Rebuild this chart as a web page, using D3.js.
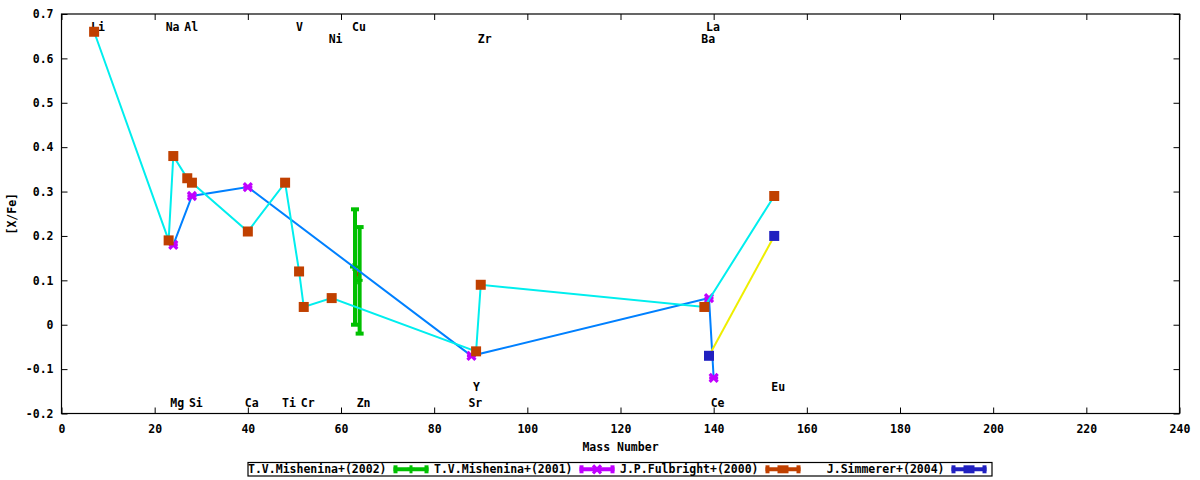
<!DOCTYPE html>
<html>
<head>
<meta charset="utf-8">
<script src="https://cdn.jsdelivr.net/npm/d3@7"></script>
<style>
  body { margin: 0; background: #fff; }
  text { font-family: "DejaVu Sans Mono", monospace; font-weight: bold; font-size: 11.5px; fill: #000; }
</style>
</head>
<body>
<div id="chart"></div>
<script>
// axis ticks
var xTicks = [0, 20, 40, 60, 80, 100, 120, 140, 160, 180, 200, 220, 240];
var yTicks = [-0.2, -0.1, 0, 0.1, 0.2, 0.3, 0.4, 0.5, 0.6, 0.7];
var yTickLabels = ["-0.2", "-0.1", "0", "0.1", "0.2", "0.3", "0.4", "0.5", "0.6", "0.7"];

// T.V.Mishenina+(2002) - with errorbars
var mish02Mass = [63, 64];
var mish02Val = [0.13, 0.10];
var mish02Err = [0.13, 0.12];

// T.V.Mishenina+(2001)
var mish01Mass = [24, 28, 40, 88, 139, 140];
var mish01Val = [0.18, 0.29, 0.31, -0.07, 0.06, -0.12];

// J.P.Fulbright+(2000)
var fulbMass = [7, 23, 24, 27, 28, 40, 48, 51, 52, 58, 89, 90, 138, 153];
var fulbVal = [0.66, 0.19, 0.38, 0.33, 0.32, 0.21, 0.32, 0.12, 0.04, 0.06, -0.06, 0.09, 0.04, 0.29];

// J.Simmerer+(2004)
var simMass = [139, 153];
var simVal = [-0.07, 0.20];

// element labels (row 0/1 top, 2/3 bottom)
var elemNames = ["Li", "Na", "Al", "V", "Cu", "La", "Ni", "Zr", "Ba", "Y", "Eu", "Mg", "Si", "Ca", "Ti", "Cr", "Zn", "Sr", "Ce"];
var elemMass  = [7, 23, 27, 51, 63, 139, 58, 90, 138, 89, 153, 24, 28, 40, 48, 52, 64, 88, 140];
var elemRow   = [0, 0, 0, 0, 0, 0, 1, 1, 1, 2, 2, 3, 3, 3, 3, 3, 3, 3, 3];
var rowValue  = [0.672, 0.645, -0.141, -0.177];

var legendNames = ["T.V.Mishenina+(2002)", "T.V.Mishenina+(2001)", "J.P.Fulbright+(2000)", "J.Simmerer+(2004)"];

var red = "#ff0000", green = "#00c000", blue = "#0080ff", magenta = "#c000ff",
    cyan = "#00eeee", brown = "#c04000", yellow = "#eeee00", navy = "#2020c0";

var W = 1200, H = 480;
var margin = { top: 14, right: 20.5, bottom: 66.5, left: 61.5 };

var svg = d3.select("#chart").append("svg")
    .attr("width", W)
    .attr("height", H);

var x = d3.scaleLinear().domain([0, 240]).range([margin.left, W - margin.right]);
var y = d3.scaleLinear().domain([-0.2, 0.7]).range([H - margin.bottom, margin.top]);

// axes (ticks pointing inward, mirrored)
var gx = svg.append("g")
    .attr("transform", "translate(0," + y(-0.2) + ")")
    .call(d3.axisBottom(x).tickValues(xTicks).tickSize(-6).tickPadding(11));
svg.append("g")
    .attr("transform", "translate(0," + y(0.7) + ")")
    .call(d3.axisTop(x).tickValues(xTicks).tickSize(-6).tickFormat(""));
svg.append("g")
    .attr("transform", "translate(" + x(0) + ",0)")
    .call(d3.axisLeft(y).tickValues(yTicks).tickSize(-6).tickPadding(8)
        .tickFormat(function (d, i) { return yTickLabels[i]; }));
svg.append("g")
    .attr("transform", "translate(" + x(240) + ",0)")
    .call(d3.axisRight(y).tickValues(yTicks).tickSize(-6).tickFormat(""));

svg.selectAll(".domain").remove();
svg.selectAll(".tick line").attr("stroke", "#000");
svg.selectAll(".tick text")
    .attr("font-family", null)
    .attr("font-size", null)
    .attr("fill", "#000");

// frame
svg.append("rect")
    .attr("x", x(0))
    .attr("y", y(0.7))
    .attr("width", x(240) - x(0))
    .attr("height", y(-0.2) - y(0.7))
    .attr("fill", "none")
    .attr("stroke", "#000")
    .attr("stroke-width", 1.2);

// axis labels
svg.append("text")
    .attr("x", (x(0) + x(240)) / 2)
    .attr("y", 451)
    .attr("text-anchor", "middle")
    .text("Mass Number");

svg.append("text")
    .attr("transform", "translate(16," + ((y(0.7) + y(-0.2)) / 2) + ") rotate(-90)")
    .attr("text-anchor", "middle")
    .text("[X/Fe]");

// element labels
svg.selectAll(".elem")
    .data(elemNames)
    .join("text")
    .attr("class", "elem")
    .attr("x", function (d, i) { return x(elemMass[i]) - 3; })
    .attr("y", function (d, i) { return y(rowValue[elemRow[i]]); })
    .attr("dy", "0.36em")
    .text(function (d) { return d; });

var line = d3.line()
    .x(function (d) { return x(d[0]); })
    .y(function (d) { return y(d[1]); });

function pairs(ms, vs) {
    return ms.map(function (m, i) { return [m, vs[i]]; });
}

function drawLine(ms, vs, color) {
    svg.append("path")
        .datum(pairs(ms, vs))
        .attr("fill", "none")
        .attr("stroke", color)
        .attr("stroke-width", 2)
        .attr("d", line);
}

// point shapes
function drawPlus(g, cx, cy, color) {
    g.append("line").attr("x1", cx - 4).attr("x2", cx + 4).attr("y1", cy).attr("y2", cy)
        .attr("stroke", color).attr("stroke-width", 3);
    g.append("line").attr("x1", cx).attr("x2", cx).attr("y1", cy - 4).attr("y2", cy + 4)
        .attr("stroke", color).attr("stroke-width", 3);
}
function drawCross(g, cx, cy, color) {
    g.append("path")
        .attr("d", "M" + (cx - 4) + "," + (cy - 4) + "L" + (cx + 4) + "," + (cy + 4) +
            "M" + (cx - 4) + "," + (cy + 4) + "L" + (cx + 4) + "," + (cy - 4))
        .attr("stroke", color).attr("stroke-width", 3.2).attr("fill", "none");
    g.append("line").attr("x1", cx - 4.5).attr("x2", cx + 4.5).attr("y1", cy).attr("y2", cy)
        .attr("stroke", color).attr("stroke-width", 3);
}
function drawSquare(g, cx, cy, color) {
    g.append("rect").attr("x", cx - 5).attr("y", cy - 5).attr("width", 10).attr("height", 10)
        .attr("fill", color);
}

// Mishenina 2002: red line + green error bars
drawLine(mish02Mass, mish02Val, red);
var gErr = svg.append("g");
mish02Mass.forEach(function (m, i) {
    var cx = x(m);
    var top = y(mish02Val[i] + mish02Err[i]);
    var bot = y(mish02Val[i] - mish02Err[i]);
    gErr.append("line").attr("x1", cx).attr("x2", cx).attr("y1", top).attr("y2", bot)
        .attr("stroke", green).attr("stroke-width", 4);
    [top, bot].forEach(function (yy) {
        gErr.append("line").attr("x1", cx - 4).attr("x2", cx + 4).attr("y1", yy).attr("y2", yy)
            .attr("stroke", green).attr("stroke-width", 4);
    });
    drawPlus(gErr, cx - 1, y(mish02Val[i]), green);
});

// Mishenina 2001: blue line + magenta points
drawLine(mish01Mass, mish01Val, blue);
var gMag = svg.append("g");
mish01Mass.forEach(function (m, i) { drawCross(gMag, x(m), y(mish01Val[i]), magenta); });

// Fulbright 2000: cyan line + brown squares
drawLine(fulbMass, fulbVal, cyan);
var gBr = svg.append("g");
fulbMass.forEach(function (m, i) { drawSquare(gBr, x(m), y(fulbVal[i]), brown); });

// Simmerer 2004: yellow line + navy squares
drawLine(simMass, simVal, yellow);
var gNv = svg.append("g");
simMass.forEach(function (m, i) { drawSquare(gNv, x(m), y(simVal[i]), navy); });

// legend
var legend = svg.append("g");
legend.append("rect")
    .attr("x", 248)
    .attr("y", 462.5)
    .attr("width", 744)
    .attr("height", 13.5)
    .attr("fill", "#fff")
    .attr("stroke", "#000")
    .attr("stroke-width", 1.2);

var legColors = [green, magenta, brown, navy];
var legMarks = [drawPlus, drawCross, function (g, cx, cy, c) {
    g.append("rect").attr("x", cx - 5.5).attr("y", cy - 4).attr("width", 11).attr("height", 8).attr("fill", c);
}, function (g, cx, cy, c) {
    g.append("rect").attr("x", cx - 5.5).attr("y", cy - 4).attr("width", 11).attr("height", 8).attr("fill", c);
}];

legendNames.forEach(function (name, i) {
    var textEnd = 386.5 + i * 186;
    var ly = 469.3;
    legend.append("text")
        .attr("x", textEnd)
        .attr("y", ly)
        .attr("dy", "0.36em")
        .attr("text-anchor", "end")
        .text(name);
    var s0 = textEnd + 7, s1 = textEnd + 42, c = legColors[i];
    legend.append("line").attr("x1", s0).attr("x2", s1).attr("y1", ly).attr("y2", ly)
        .attr("stroke", c).attr("stroke-width", 4);
    [s0 + 2, s1 - 2].forEach(function (xx) {
        legend.append("line").attr("x1", xx).attr("x2", xx).attr("y1", ly - 4).attr("y2", ly + 4)
            .attr("stroke", c).attr("stroke-width", 4);
    });
    legMarks[i](legend, (s0 + s1) / 2, ly, c);
});
</script>
</body>
</html>
